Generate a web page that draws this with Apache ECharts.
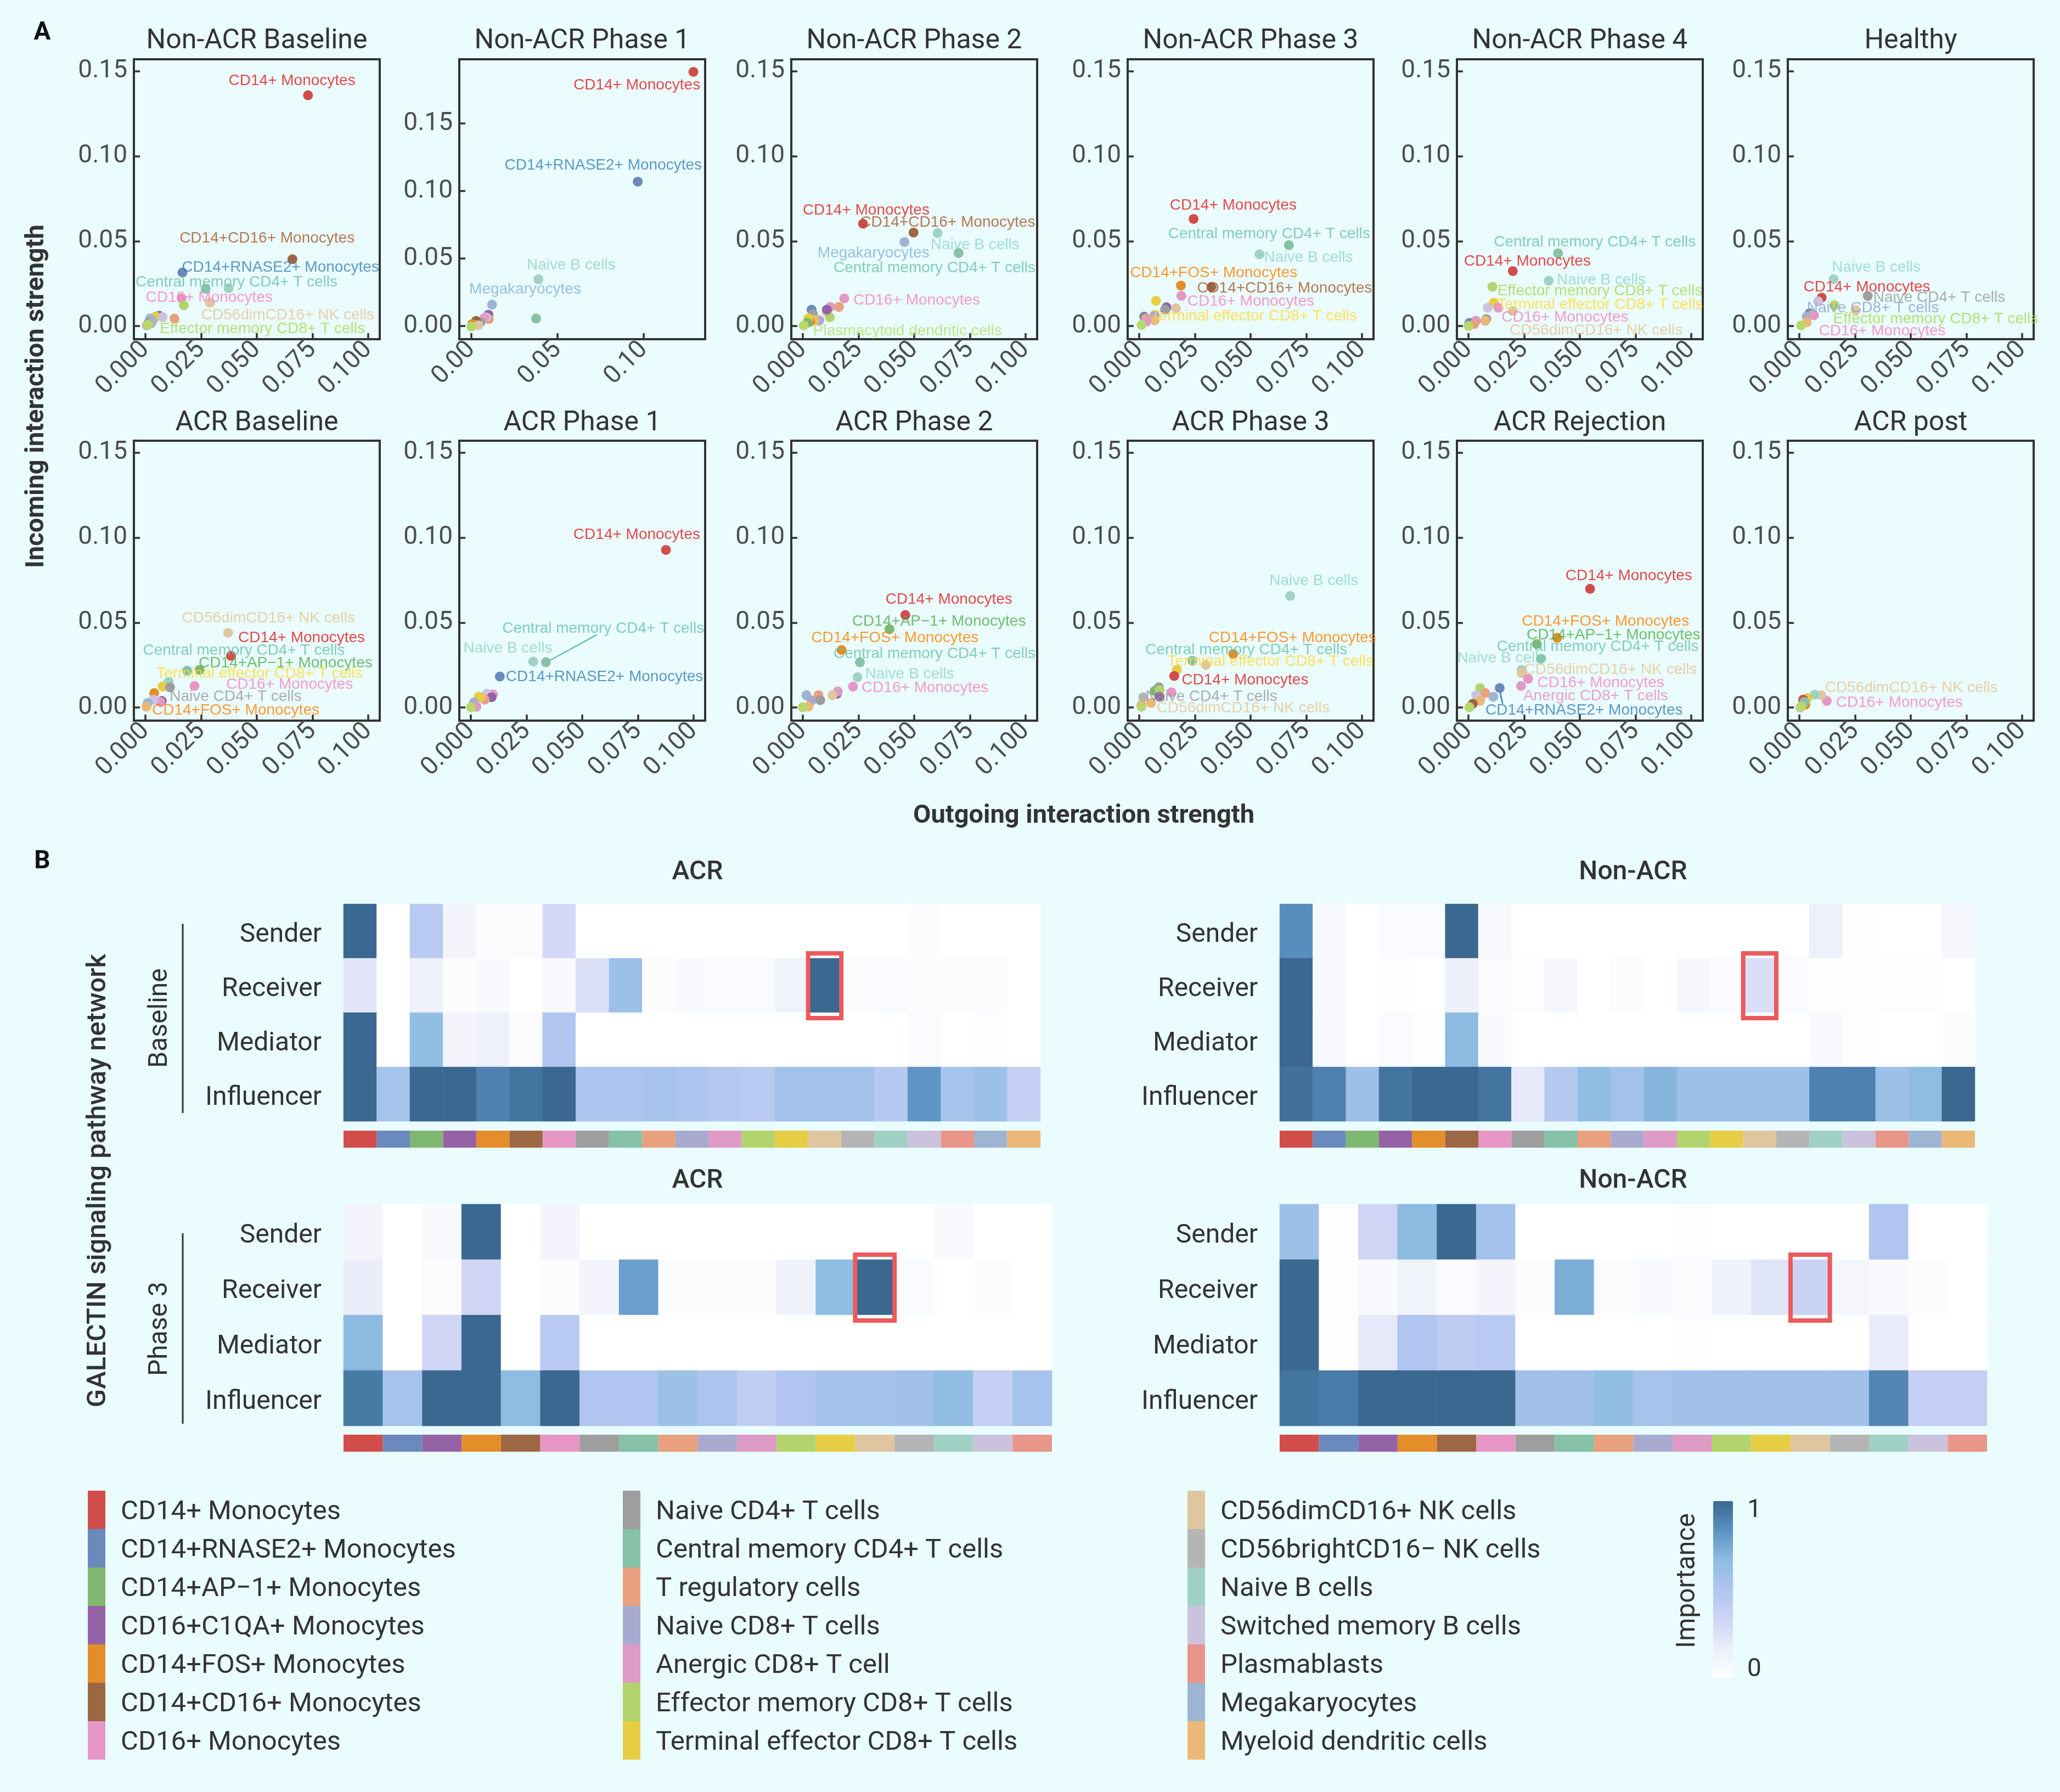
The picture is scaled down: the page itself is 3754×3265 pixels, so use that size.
<!DOCTYPE html>
<html><head><meta charset="utf-8">
<script src="https://cdn.jsdelivr.net/npm/echarts@6/dist/echarts.min.js"></script>
<style>html,body{margin:0;padding:0;background:#eafcfe}#c{width:3754px;height:3265px}</style>
</head><body><div id="c"></div>
<script>
// ---------------- DATA ----------------
const cellTypes = ['CD14+ Monocytes','CD14+RNASE2+ Monocytes','CD14+AP\u22121+ Monocytes','CD16+C1QA+ Monocytes','CD14+FOS+ Monocytes','CD14+CD16+ Monocytes','CD16+ Monocytes','Naive CD4+ T cells','Central memory CD4+ T cells','T regulatory cells','Naive CD8+ T cells','Anergic CD8+ T cell','Effector memory CD8+ T cells','Terminal effector CD8+ T cells','CD56dimCD16+ NK cells','CD56brightCD16\u2212 NK cells','Naive B cells','Switched memory B cells','Plasmablasts','Megakaryocytes','Myeloid dendritic cells','Plasmacytoid dendritic cells'];
const pointColors = ['#d04d4c','#6c89bd','#7fb770','#9562a6','#e38e2b','#9c6844','#e697c5','#9e9e9e','#85c2a8','#e9a07e','#a8aacf','#dd9bc6','#b3d46c','#e6cd44','#dfc6a0','#b5b5b5','#a1d1c5','#cbc3de','#e8968a','#9eb4d3','#ebb878','#b8d86e'];
const labelColors = ['#e41a1c','#377eb8','#4daf4a','#984ea3','#ff7f00','#a65628','#f781bf','#999999','#66c2a5','#fc8d62','#8da0cb','#e78ac3','#a6d854','#ffd92f','#e5c494','#b3b3b3','#8dd3c7','#bebada','#fb8072','#80b1d3','#fdb462','#b3de69'];
const panelTitles = ['Non-ACR Baseline','Non-ACR Phase 1','Non-ACR Phase 2','Non-ACR Phase 3','Non-ACR Phase 4','Healthy','ACR Baseline','ACR Phase 1','ACR Phase 2','ACR Phase 3','ACR Rejection','ACR post'];
const xTicks = [0, 0.025, 0.05, 0.075, 0.1];
const xTicksPhase1 = [0, 0.05, 0.1];
const yTicks = [0, 0.05, 0.1, 0.15];

// points: [cellTypeIndex, outgoing, incoming]; labels: [text, colourIndex, x, y]
const ptsNonBaseline = [[0,0.073,0.1359],[5,0.066,0.0394],[1,0.0166,0.0316],[8,0.027,0.022],[16,0.0373,0.0223],[6,0.0162,0.0163],[12,0.0172,0.0123],[14,0.029,0.0138],[9,0.013,0.0045],[3,0.0062,0.0061],[13,0.0046,0.0056],[17,0.0077,0.0053],[19,0.0021,0.0045],[10,0.003,0.0027],[7,0.0015,0.0022],[11,0.0006,0.0004],[15,0.0025,0.0016],[21,0.001,0.0007]];
const lblNonBaseline = [['CD14+ Monocytes',0,0.0658,0.1445],['CD14+CD16+ Monocytes',5,0.0546,0.0517],['CD14+RNASE2+ Monocytes',1,0.0606,0.0346],['Central memory CD4+ T cells',8,0.0409,0.0257],['CD16+ Monocytes',6,0.0286,0.0168],['CD56dimCD16+ NK cells',14,0.0639,0.0064],['Effector memory CD8+ T cells',12,0.0525,-0.0018]];
const ptsNonP1 = [[0,0.1288,0.1883],[1,0.0965,0.107],[16,0.0389,0.0347],[19,0.012,0.0159],[8,0.0376,0.0056],[3,0.0099,0.0084],[9,0.0101,0.0052],[17,0.0085,0.0065],[6,0.0075,0.0058],[7,0.0053,0.0028],[20,0.0027,0.0024],[5,0.0027,0.0039],[4,0.0005,0.0015],[14,0.004,0.0006],[21,0,-0.0004]];
const lblNonP1 = [['CD14+ Monocytes',0,0.096,0.1784],['CD14+RNASE2+ Monocytes',1,0.0765,0.1192],['Naive B cells',16,0.0579,0.045],['Megakaryocytes',19,0.0312,0.0271]];
const ptsNonP2 = [[0,0.027,0.0603],[5,0.0497,0.0551],[16,0.0605,0.0548],[19,0.0456,0.0495],[8,0.0699,0.0431],[6,0.0186,0.0163],[9,0.0162,0.0113],[11,0.0123,0.0113],[14,0.0106,0.0085],[12,0.0121,0.0052],[3,0.0108,0.0097],[1,0.0039,0.0097],[7,0.0045,0.0071],[10,0.0074,0.0034],[20,0.0053,0.0037],[4,0.0033,0.0027],[13,0.0025,0.0046],[2,0.002,0.002],[21,0.0004,0.0004]];
const lblNonP2 = [['CD14+ Monocytes',0,0.0284,0.068],['CD14+CD16+ Monocytes',5,0.065,0.0609],['Naive B cells',16,0.0773,0.0477],['Megakaryocytes',19,0.0317,0.0431],['Central memory CD4+ T cells',8,0.0591,0.0343],['CD16+ Monocytes',6,0.0511,0.0153],['Plasmacytoid dendritic cells',21,0.047,-0.0028]];
const ptsNonP3 = [[0,0.0244,0.0631],[8,0.0672,0.0477],[16,0.054,0.0423],[4,0.0187,0.0239],[5,0.0324,0.023],[6,0.0189,0.0178],[13,0.0075,0.0149],[3,0.0122,0.0111],[14,0.0165,0.0105],[7,0.0116,0.0097],[1,0.0022,0.0056],[10,0.0069,0.0064],[20,0.0069,0.0034],[9,0.003,0.0046],[11,0.0033,0.0027],[21,0.001,0.0007]];
const lblNonP3 = [['CD14+ Monocytes',0,0.0422,0.071],['Central memory CD4+ T cells',8,0.0583,0.0542],['Naive B cells',16,0.076,0.0405],['CD14+FOS+ Monocytes',4,0.0334,0.0312],['CD14+CD16+ Monocytes',5,0.0652,0.0224],['CD16+ Monocytes',6,0.0501,0.0144],['Terminal effector CD8+ T cells',13,0.0515,0.0059]];
const ptsNonP4 = [[8,0.0402,0.0429],[0,0.0199,0.0324],[16,0.036,0.0267],[12,0.0107,0.0232],[13,0.0113,0.0138],[17,0.0086,0.0108],[6,0.0134,0.0108],[14,0.0199,0.0089],[7,0.008,0.0042],[20,0.0075,0.0031],[11,0.0033,0.0031],[1,0.0004,0.0019],[9,0.0025,0.0012],[21,0,0.0001]];
const lblNonP4 = [['Central memory CD4+ T cells',8,0.0567,0.0495],['CD14+ Monocytes',0,0.0264,0.038],['Naive B cells',16,0.0596,0.0272],['Effector memory CD8+ T cells',12,0.059,0.0205],['Terminal effector CD8+ T cells',13,0.059,0.0126],['CD16+ Monocytes',6,0.0433,0.0052],['CD56dimCD16+ NK cells',14,0.0573,-0.0025]];
const ptsHealthy = [[16,0.0154,0.0276],[0,0.01,0.0168],[7,0.0307,0.0178],[12,0.0157,0.0123],[14,0.0253,0.0094],[17,0.0084,0.0146],[1,0.0046,0.0076],[10,0.0033,0.0056],[8,0.0058,0.0067],[6,0.0065,0.0064],[20,0.0033,0.0022],[21,0.0008,0.0004]];
const lblHealthy = [['Naive B cells',16,0.0345,0.0346],['CD14+ Monocytes',0,0.0303,0.023],['Naive CD4+ T cells',7,0.0628,0.0168],['Naive CD8+ T cells',10,0.033,0.0105],['Effector memory CD8+ T cells',12,0.0612,0.0042],['CD16+ Monocytes',6,0.0372,-0.0028]];
const ptsAcrBaseline = [[14,0.0371,0.044],[0,0.0384,0.0305],[8,0.0187,0.0217],[2,0.0243,0.0222],[16,0.0104,0.0152],[13,0.0077,0.0124],[7,0.011,0.0119],[6,0.022,0.0127],[4,0.0039,0.0085],[3,0.0073,0.0039],[11,0.0066,0.0034],[17,0.0037,0.0047],[19,0.001,0.0027],[20,0.0004,0.0005]];
const lblAcrBaseline = [['CD56dimCD16+ NK cells',14,0.0552,0.0525],['CD14+ Monocytes',0,0.0701,0.0411],['Central memory CD4+ T cells',8,0.0442,0.0335],['CD14+AP\u22121+ Monocytes',2,0.0629,0.0262],['Terminal effector CD8+ T cells',13,0.0512,0.02],['CD16+ Monocytes',6,0.0647,0.0135],['Naive CD4+ T cells',7,0.0405,0.0064],['CD14+FOS+ Monocytes',4,0.0405,-0.0017]];
const ptsAcrP1 = [[0,0.0876,0.0928],[16,0.028,0.0271],[8,0.0337,0.0267],[1,0.013,0.0183],[6,0.0099,0.0078],[17,0.0072,0.0081],[3,0.0093,0.0061],[9,0.0062,0.0047],[20,0.0046,0.0059],[13,0.0035,0.0064],[19,0.0014,0.003],[10,0.001,0.0017],[11,0.0025,0.0005],[21,0,0.0002]];
const lblAcrP1 = [['CD14+ Monocytes',0,0.0745,0.1017],['Central memory CD4+ T cells',8,0.0594,0.0466],['Naive B cells',16,0.0166,0.0349],['CD14+RNASE2+ Monocytes',1,0.06,0.0179]];
const segAcrP1 = [[8,0.0565,0.0428,0.0352,0.0276]];
const ptsAcrP2 = [[0,0.046,0.0545],[2,0.0389,0.0462],[4,0.0174,0.0339],[8,0.0256,0.0267],[16,0.0245,0.0179],[6,0.0225,0.0124],[3,0.0153,0.0081],[11,0.0157,0.0095],[14,0.0133,0.0073],[9,0.007,0.0073],[19,0.0016,0.0073],[10,0.0039,0.0042],[20,0.0025,0.0005],[7,0.0078,0.0044],[21,0,0.0002]];
const lblAcrP2 = [['CD14+ Monocytes',0,0.0656,0.0635],['CD14+AP\u22121+ Monocytes',2,0.0611,0.0508],['CD14+FOS+ Monocytes',4,0.0413,0.0411],['Central memory CD4+ T cells',8,0.0591,0.0315],['Naive B cells',16,0.0479,0.0196],['CD16+ Monocytes',6,0.0548,0.0115]];
const ptsAcrP3 = [[16,0.0678,0.0657],[4,0.0422,0.0315],[8,0.0238,0.0276],[14,0.0299,0.0251],[13,0.0169,0.0222],[0,0.0157,0.0186],[6,0.0145,0.009],[7,0.0088,0.012],[2,0.0069,0.0098],[12,0.0092,0.0102],[3,0.0092,0.0064],[15,0.0018,0.0061],[20,0.0053,0.0027],[9,0.001,0.0014],[21,0.001,0.0005]];
const lblAcrP3 = [['Naive B cells',16,0.0784,0.0747],['CD14+FOS+ Monocytes',4,0.0688,0.0411],['Central memory CD4+ T cells',8,0.0481,0.034],['Terminal effector CD8+ T cells',13,0.0589,0.0271],['CD14+ Monocytes',0,0.0475,0.0161],['Naive CD4+ T cells',7,0.0324,0.0064],['CD56dimCD16+ NK cells',14,0.0466,-0.0003]];
const ptsAcrRej = [[0,0.0546,0.0699],[4,0.0398,0.0411],[2,0.0307,0.0374],[8,0.0326,0.0288],[16,0.0239,0.0222],[14,0.0239,0.0203],[6,0.0268,0.0169],[11,0.0236,0.0127],[1,0.014,0.0115],[19,0.0111,0.0064],[12,0.0052,0.0115],[9,0.0075,0.0085],[17,0.0034,0.0073],[20,0.0052,0.0039],[5,0.0019,0.0022],[21,0.0004,0.0002]];
const lblAcrRej = [['CD14+ Monocytes',0,0.072,0.0775],['CD14+FOS+ Monocytes',4,0.0615,0.0508],['CD14+AP\u22121+ Monocytes',2,0.0651,0.0425],['Central memory CD4+ T cells',8,0.058,0.0357],['Naive B cells',16,0.0149,0.0289],['CD56dimCD16+ NK cells',14,0.0638,0.0222],['CD16+ Monocytes',6,0.0594,0.0144],['Anergic CD8+ T cells',11,0.0571,0.0069],['CD14+RNASE2+ Monocytes',1,0.0519,-0.0017]];
const segAcrRej = [[1,0.0153,0.0022,0.014,0.0102]];
const ptsAcrPost = [[6,0.0123,0.0039],[14,0.0098,0.0073],[16,0.0069,0.0076],[13,0.0036,0.0056],[0,0.0017,0.0047],[4,0.0027,0.0017],[8,0.0023,0.0034],[17,0.0004,0],[21,0.0008,0.0005]];
const lblAcrPost = [['CD56dimCD16+ NK cells',14,0.0503,0.0115],['CD16+ Monocytes',6,0.0449,0.003]];

// heatmaps
const hmRows = ['Sender','Receiver','Mediator','Influencer'];
const baselineCells = [0,1,2,3,4,5,6,7,8,9,10,11,12,13,14,15,16,17,18,19,20];
const phase3Cells = [0,1,3,4,5,6,7,8,9,10,11,12,13,14,15,16,17,18];
const highlightCell = 14; // CD56dimCD16+ NK cells
const highlightRole = 'Receiver';
const acrBaseline = [
 [1.0,0,0.45,0.1,0.03,0.03,0.3,0,0,0,0,0,0,0,0,0,0,0.03,0,0,0],
 [0.22,0,0.14,0.03,0.05,0,0.06,0.25,0.6,0.03,0.05,0.04,0.04,0.12,1.0,0.03,0.04,0.03,0.03,0.03,0],
 [1.0,0,0.65,0.1,0.14,0.03,0.5,0,0,0,0,0,0,0,0,0,0,0.04,0,0.02,0],
 [1.0,0.55,1.0,1.0,0.9,0.95,1.0,0.52,0.52,0.55,0.52,0.47,0.45,0.57,0.57,0.57,0.46,0.82,0.55,0.6,0.38]];
const nonAcrBaseline = [
 [0.85,0.06,0,0.04,0.04,1.0,0.06,0,0,0,0,0,0,0,0,0,0.15,0.02,0,0,0.08],
 [1.0,0.06,0,0.02,0,0.16,0.04,0.02,0.08,0,0.03,0,0.08,0.04,0.27,0.04,0.02,0.02,0.02,0.02,0],
 [1.0,0.06,0,0.04,0.02,0.68,0.05,0,0,0,0,0,0,0,0,0,0.05,0.02,0,0,0.03],
 [0.97,0.9,0.6,0.95,1.0,1.0,0.95,0.2,0.46,0.66,0.57,0.7,0.6,0.6,0.6,0.6,0.9,0.9,0.6,0.67,1.0]];
const acrPhase3 = [
 [0.1,0,0.06,1.0,0,0.1,0,0,0,0,0,0,0,0,0,0.05,0,0],
 [0.17,0,0.03,0.32,0,0.03,0.1,0.78,0.03,0.03,0.03,0.13,0.67,1.0,0.04,0,0.03,0],
 [0.68,0,0.32,1.0,0,0.45,0,0,0,0,0,0,0,0,0,0,0,0],
 [0.93,0.55,1.0,1.0,0.67,1.0,0.5,0.5,0.6,0.52,0.4,0.5,0.56,0.56,0.58,0.66,0.38,0.55]];
const nonAcrPhase3 = [
 [0.6,0.02,0.33,0.68,1.0,0.57,0,0,0,0,0.02,0,0,0,0,0.5,0,0],
 [1.0,0.02,0.05,0.12,0.04,0.1,0.03,0.73,0.03,0.05,0.03,0.13,0.23,0.35,0.09,0.05,0.03,0],
 [1.0,0.02,0.2,0.5,0.42,0.45,0,0,0,0,0.02,0,0,0,0,0.18,0,0],
 [0.95,0.92,1.0,1.0,1.0,1.0,0.58,0.58,0.65,0.55,0.58,0.58,0.58,0.58,0.58,0.88,0.38,0.38]];
const legendCells = [0,1,2,3,4,5,6,7,8,9,10,11,12,13,14,15,16,17,18,19,20];

// ---------------- LAYOUT / STYLE ----------------
const BG = '#eafcfe';
const INK = '#333333';
const TICK = '#4d4d4d';
const panelLeft = [244, 837, 1442, 2055, 2655, 3258];
const rowTop = [108, 803];
const PW = 448, PH = 510;
const heatColors = ['#ffffff','#eceefa','#cdd4f5','#b0c5f0','#90bde3','#5a92c3','#3b6891'];

const panels = [
 [ptsNonBaseline,lblNonBaseline,[]],[ptsNonP1,lblNonP1,[]],[ptsNonP2,lblNonP2,[]],[ptsNonP3,lblNonP3,[]],[ptsNonP4,lblNonP4,[]],[ptsHealthy,lblHealthy,[]],
 [ptsAcrBaseline,lblAcrBaseline,[]],[ptsAcrP1,lblAcrP1,segAcrP1],[ptsAcrP2,lblAcrP2,[]],[ptsAcrP3,lblAcrP3,[]],[ptsAcrRej,lblAcrRej,segAcrRej],[ptsAcrPost,lblAcrPost,[]]
];

const grid = [], xAxis = [], yAxis = [], series = [], graphic = [];
const font = 'Roboto';

panels.forEach((p, i) => {
  const row = Math.floor(i / 6), col = i % 6;
  const gi = grid.length;
  const wide = (i === 1);
  grid.push({left: panelLeft[col], top: rowTop[row], width: PW, height: PH, containLabel: false, outerBoundsMode: 'none',
    show: true, borderColor: INK, borderWidth: 4, backgroundColor: 'rgba(0,0,0,0)'});
  const xt = wide ? xTicksPhase1 : xTicks;
  xAxis.push({gridIndex: gi, type: 'value', position: 'bottom', min: wide ? -0.007 : -0.0052, max: wide ? 0.1356 : 0.1052,
    axisLine: {show: false, onZero: false}, splitLine: {show: false},
    axisTick: {show: true, inside: true, length: 11, lineStyle: {color: INK, width: 3.5}, customValues: xt},
    axisLabel: {show: true, customValues: xt, rotate: 45, margin: 12, fontSize: 46, fontFamily: font, color: TICK,
      formatter: v => Number(v).toFixed(wide ? 2 : 3)}});
  yAxis.push({gridIndex: gi, type: 'value', position: 'left', min: wide ? -0.0097 : -0.0077, max: wide ? 0.1976 : 0.1571,
    axisLine: {show: false, onZero: false}, splitLine: {show: false},
    axisTick: {show: true, inside: true, length: 11, lineStyle: {color: INK, width: 3.5}, customValues: yTicks},
    axisLabel: {show: true, customValues: yTicks, margin: 12, fontSize: 46, fontFamily: font, color: TICK,
      formatter: v => Number(v).toFixed(2)}});
  p[2].forEach(s => {
    series.push({type: 'line', xAxisIndex: gi, yAxisIndex: gi, data: [[s[1], s[2]], [s[3], s[4]]], symbol: 'none',
      lineStyle: {color: labelColors[s[0]], width: 2.5}, silent: true, z: 2, animation: false});
  });
  series.push({type: 'scatter', xAxisIndex: gi, yAxisIndex: gi, symbolSize: 18, clip: false, silent: true, animation: false, z: 3,
    data: p[0].map(d => ({value: [d[1], d[2]], itemStyle: {color: pointColors[d[0]], opacity: 1}}))});
  series.push({type: 'scatter', xAxisIndex: gi, yAxisIndex: gi, symbolSize: 1, clip: false, silent: true, animation: false, z: 4,
    itemStyle: {color: 'rgba(0,0,0,0)'},
    label: {show: true, position: 'inside', formatter: '{b}', fontSize: 28, fontFamily: 'Liberation Sans'},
    labelLayout: {hideOverlap: false},
    data: p[1].map(d => ({name: d[0], value: [d[2], d[3]], label: {color: labelColors[d[1]]}}))});
  graphic.push({type: 'text', x: panelLeft[col] + PW / 2, y: (row === 0 ? 75 : 771),
    style: {text: panelTitles[i], fontSize: 50, fontFamily: font, fill: INK, align: 'center', verticalAlign: 'middle'}});
});

// heatmaps
const hmPanels = [
  {title: 'ACR', cells: baselineCells, vals: acrBaseline, left: 626, top: 1647, width: 1270, height: 396, stripTop: 2060, titleX: 1271, titleY: 1590},
  {title: 'Non-ACR', cells: baselineCells, vals: nonAcrBaseline, left: 2332, top: 1647, width: 1267, height: 396, stripTop: 2060, titleX: 2976, titleY: 1590},
  {title: 'ACR', cells: phase3Cells, vals: acrPhase3, left: 626, top: 2194, width: 1291, height: 404, stripTop: 2614, titleX: 1271, titleY: 2152},
  {title: 'Non-ACR', cells: phase3Cells, vals: nonAcrPhase3, left: 2332, top: 2194, width: 1289, height: 404, stripTop: 2614, titleX: 2976, titleY: 2152}
];
const hmSeriesIdx = [];
hmPanels.forEach(h => {
  const gi = grid.length;
  const catNames = h.cells.map(c => cellTypes[c]);
  grid.push({left: h.left, top: h.top, width: h.width, height: h.height, containLabel: false, outerBoundsMode: 'none'});
  xAxis.push({gridIndex: gi, type: 'category', data: catNames, axisLine: {show: false}, axisTick: {show: false}, axisLabel: {show: false}, splitLine: {show: false}});
  yAxis.push({gridIndex: gi, type: 'category', data: hmRows, inverse: true, axisLine: {show: false}, axisTick: {show: false}, splitLine: {show: false},
    axisLabel: {show: true, margin: 40, formatter: v => '{r|' + v + '}',
      rich: {r: {fontSize: 48, fontFamily: font, color: INK, padding: [14, 0, 0, 0]}}}});
  const data = [];
  h.vals.forEach((rowVals, r) => rowVals.forEach((v, c) => data.push([c, r, v])));
  hmSeriesIdx.push(series.length);
  series.push({type: 'heatmap', xAxisIndex: gi, yAxisIndex: gi, data: data, itemStyle: {borderWidth: 0}, emphasis: {disabled: true}, silent: true, animation: false, progressive: 0});
  const hc = h.cells.indexOf(highlightCell);
  series.push({type: 'custom', xAxisIndex: gi, yAxisIndex: gi, data: [[hc, hmRows.indexOf(highlightRole)]], silent: true, z: 10, animation: false,
    renderItem: (params, api) => {
      const c = api.coord([api.value(0), api.value(1)]);
      const s = api.size([1, 1]);
      return {type: 'rect', shape: {x: c[0] - s[0] / 2, y: c[1] - s[1] / 2 - 9, width: s[0], height: s[1] + 19},
        style: {fill: 'none', stroke: '#ec5a5c', lineWidth: 8}};
    }});
  // colour strip
  const gs = grid.length;
  grid.push({left: h.left, top: h.stripTop, width: h.width, height: 31, containLabel: false, outerBoundsMode: 'none'});
  xAxis.push({gridIndex: gs, type: 'category', data: catNames, show: false});
  yAxis.push({gridIndex: gs, type: 'value', min: 0, max: 1, show: false});
  series.push({type: 'bar', xAxisIndex: gs, yAxisIndex: gs, barCategoryGap: '0%', silent: true, animation: false,
    data: h.cells.map(c => ({value: 1, itemStyle: {color: pointColors[c]}}))});
  graphic.push({type: 'text', x: h.titleX, y: h.titleY,
    style: {text: h.title, fontSize: 48, fontWeight: 500, fontFamily: font, fill: INK, align: 'center', verticalAlign: 'middle'}});
});

// other text
graphic.push({type: 'text', x: 77, y: 60, style: {text: 'A', fontSize: 46, fontWeight: 'bold', fontFamily: font, fill: '#111', align: 'center', verticalAlign: 'middle'}});
graphic.push({type: 'text', x: 77, y: 1570, style: {text: 'B', fontSize: 46, fontWeight: 'bold', fontFamily: font, fill: '#111', align: 'center', verticalAlign: 'middle'}});
graphic.push({type: 'text', x: 1975, y: 1487, style: {text: 'Outgoing interaction strength', fontSize: 47, fontWeight: 'bold', fontFamily: font, fill: INK, align: 'center', verticalAlign: 'middle'}});
graphic.push({type: 'text', x: 67, y: 722, rotation: Math.PI / 2, style: {text: 'Incoming interaction strength', fontSize: 47, fontWeight: 'bold', fontFamily: font, fill: INK, align: 'center', verticalAlign: 'middle'}});
graphic.push({type: 'text', x: 180, y: 2151, rotation: Math.PI / 2, style: {text: 'GALECTIN signaling pathway network', fontSize: 49, fontWeight: 500, fontFamily: font, fill: INK, align: 'center', verticalAlign: 'middle'}});
graphic.push({type: 'text', x: 292, y: 1855, rotation: Math.PI / 2, style: {text: 'Baseline', fontSize: 48, fontFamily: font, fill: INK, align: 'center', verticalAlign: 'middle'}});
graphic.push({type: 'text', x: 292, y: 2421, rotation: Math.PI / 2, style: {text: 'Phase 3', fontSize: 48, fontFamily: font, fill: INK, align: 'center', verticalAlign: 'middle'}});
graphic.push({type: 'line', shape: {x1: 333, y1: 1683, x2: 333, y2: 2028}, style: {stroke: INK, lineWidth: 3}});
graphic.push({type: 'line', shape: {x1: 333, y1: 2247, x2: 333, y2: 2594}, style: {stroke: INK, lineWidth: 3}});

// legend of cell types
const legStripX = [160, 1135, 2164];
legendCells.forEach((c, k) => {
  const col = Math.floor(k / 7), r = k % 7;
  const y0 = 2716 + r * 70;
  graphic.push({type: 'rect', shape: {x: legStripX[col], y: y0, width: 32, height: 70}, style: {fill: pointColors[c]}});
  graphic.push({type: 'text', x: legStripX[col] + 60, y: y0 + 40, style: {text: cellTypes[c], fontSize: 49, fontFamily: font, fill: INK, align: 'left', verticalAlign: 'middle'}});
});
graphic.push({type: 'text', x: 3184, y: 2752, style: {text: '1', fontSize: 46, fontFamily: font, fill: INK, align: 'left', verticalAlign: 'middle'}});
graphic.push({type: 'text', x: 3184, y: 3042, style: {text: '0', fontSize: 46, fontFamily: font, fill: INK, align: 'left', verticalAlign: 'middle'}});
graphic.push({type: 'text', x: 3076, y: 2880, rotation: Math.PI / 2, style: {text: 'Importance', fontSize: 48, fontFamily: font, fill: INK, align: 'center', verticalAlign: 'middle'}});

const option = {
  backgroundColor: BG,
  animation: false,
  grid, xAxis, yAxis, series, graphic,
  visualMap: {type: 'continuous', min: 0, max: 1, seriesIndex: hmSeriesIdx, left: 3122, top: 2735, itemWidth: 36, itemHeight: 322,
    calculable: false, hoverLink: false, padding: 0, inRange: {color: heatColors}, textStyle: {color: INK, fontSize: 1}}
};
const chart = echarts.init(document.getElementById('c'), null, {renderer: 'canvas', width: 3754, height: 3265});
chart.setOption(option);
</script></body></html>
